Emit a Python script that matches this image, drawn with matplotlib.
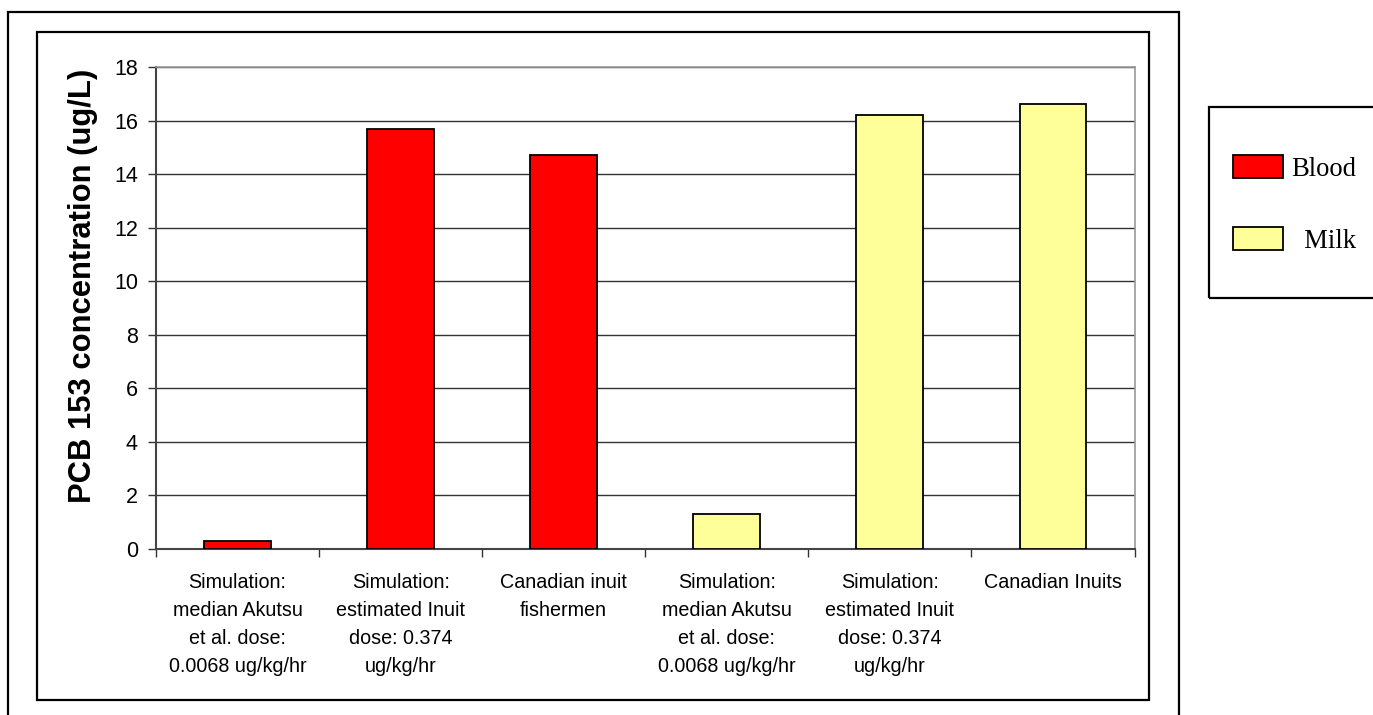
import numpy as np
import matplotlib
matplotlib.use("Agg")
import matplotlib.pyplot as plt
from matplotlib.patches import Rectangle

# PCB 153 concentrations (ug/L)
categories = [
    "Simulation:\nmedian Akutsu\net al. dose:\n0.0068 ug/kg/hr",
    "Simulation:\nestimated Inuit\ndose: 0.374\nug/kg/hr",
    "Canadian inuit\nfishermen",
    "Simulation:\nmedian Akutsu\net al. dose:\n0.0068 ug/kg/hr",
    "Simulation:\nestimated Inuit\ndose: 0.374\nug/kg/hr",
    "Canadian Inuits",
]
blood_values = [0.3, 15.7, 14.7]
milk_values = [1.3, 16.2, 16.6]
y_ticks = [0, 2, 4, 6, 8, 10, 12, 14, 16, 18]

W, H = 1373, 715
fig = plt.figure(figsize=(W / 100, H / 100), dpi=100)


def px_box(x0, y0, x1, y1):
    """pixel box (top-left origin) -> figure fraction [l, b, w, h]"""
    return [x0 / W, 1 - y1 / H, (x1 - x0) / W, (y1 - y0) / H]


ax = fig.add_axes(px_box(156, 67, 1134.5, 549))

x_blood = np.arange(len(blood_values))
x_milk = np.arange(len(milk_values)) + len(blood_values)
bw = 0.41
ax.bar(x_blood, blood_values, width=bw, color="#ff0000", edgecolor="black",
       linewidth=1.3, label="Blood", zorder=3)
ax.bar(x_milk, milk_values, width=bw, color="#ffff99", edgecolor="black",
       linewidth=1.3, label="  Milk", zorder=3)

ax.set_xlim(-0.5, len(categories) - 0.5)
ax.set_ylim(0, 18)
ax.set_yticks(y_ticks)
ax.yaxis.grid(True, color="#333333", linewidth=1.0, zorder=0)
ax.tick_params(axis="y", labelsize=15.5, length=6, width=1, color="#333333",
               pad=7, labelfontfamily="Liberation Sans")

ax.set_xticks(np.arange(len(categories)))
ax.set_xticklabels(categories, fontsize=14.2, family="Liberation Sans",
                   linespacing=1.6, va="top")
ax.tick_params(axis="x", which="major", length=0, pad=17)
ax.set_xticks(np.arange(len(categories) + 1) - 0.5, minor=True)
ax.tick_params(axis="x", which="minor", length=6, width=1, color="#333333")

for side in ("left", "bottom"):
    ax.spines[side].set_color("#444444")
    ax.spines[side].set_linewidth(1.5)
for side in ("top", "right"):
    ax.spines[side].set_color("#999999")
    ax.spines[side].set_linewidth(1.2)

ax.set_ylabel("PCB 153 concentration (ug/L)", fontsize=22.3, fontweight="bold",
              family="Liberation Sans")
ax.yaxis.set_label_coords(-0.0594, 0.546)

# frames around chart and legend
for x0, y0, x1, y1 in [(8, 12, 1179, 730), (37, 32, 1149, 700), (1209, 107, 1390, 298)]:
    fig.patches.append(Rectangle((x0 / W, 1 - y1 / H), (x1 - x0) / W, (y1 - y0) / H,
                                 transform=fig.transFigure, fill=False,
                                 edgecolor="black", linewidth=1.6))

handles, labels = ax.get_legend_handles_labels()
fig.legend(handles, labels, loc="upper left",
           bbox_to_anchor=(1209 / W, 1 - 131 / H), frameon=False,
           prop={"family": "Liberation Serif", "size": 19.2},
           handlelength=1.87, handleheight=0.94, handletextpad=0.3,
           labelspacing=1.7)

fig.savefig("out.png", dpi=100)
